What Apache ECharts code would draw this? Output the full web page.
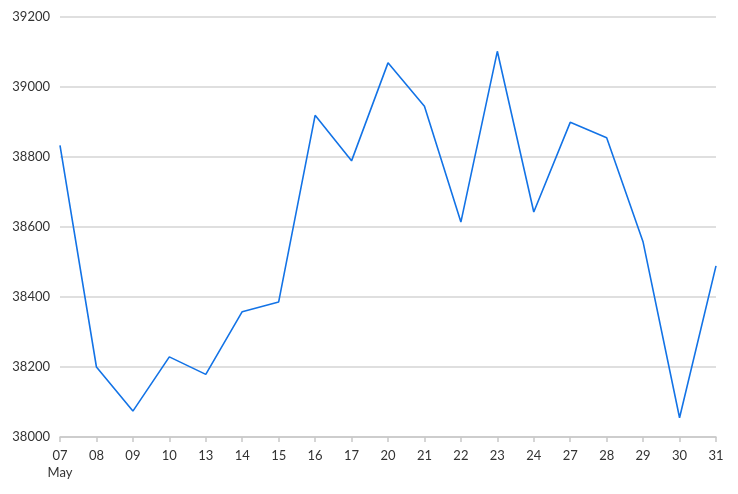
<!DOCTYPE html>
<html><head><meta charset="utf-8">
<script src="https://cdn.jsdelivr.net/npm/echarts@6/dist/echarts.min.js"></script>
<style>html,body{margin:0;padding:0;background:#fff}#c{width:738px;height:494px}</style>
</head><body><div id="c"></div>
<script>
const categories = ['07','08','09','10','13','14','15','16','17','20','21','22','23','24','27','28','29','30','31'];
const monthLabel = 'May';
const values = [38833,38200,38074,38229,38179,38358,38386,38919,38789,39069,38945,38614,39102,38643,38899,38855,38557,38055,38489];
const yMin = 38000, yMax = 39200, yStep = 200;

const chart = echarts.init(document.getElementById('c'));
chart.setOption({
  animation:false,
  grid:{left:60,right:22,top:17,bottom:57},
  xAxis:{
    type:'category', data:categories, boundaryGap:false,
    axisLine:{lineStyle:{color:'#c8c8c8',width:1.5}},
    axisTick:{alignWithLabel:true,length:5,lineStyle:{color:'#c8c8c8',width:1.5}},
    axisLabel:{color:'#333',fontFamily:'Lato',fontSize:13,margin:10,lineHeight:17,interval:0,
      formatter:(v,i)=> i===0 ? v+'\n'+monthLabel : v}
  },
  yAxis:{
    type:'value', min:yMin, max:yMax, interval:yStep,
    axisLine:{show:false}, axisTick:{show:false},
    splitLine:{lineStyle:{color:'#d4d4d4',width:1.5}},
    axisLabel:{color:'#333',fontFamily:'Lato',fontSize:13,margin:10,formatter:v=>String(v)}
  },
  series:[{type:'line',data:values,symbol:'none',lineStyle:{color:'#1373e6',width:1.6}}]
});
</script></body></html>
